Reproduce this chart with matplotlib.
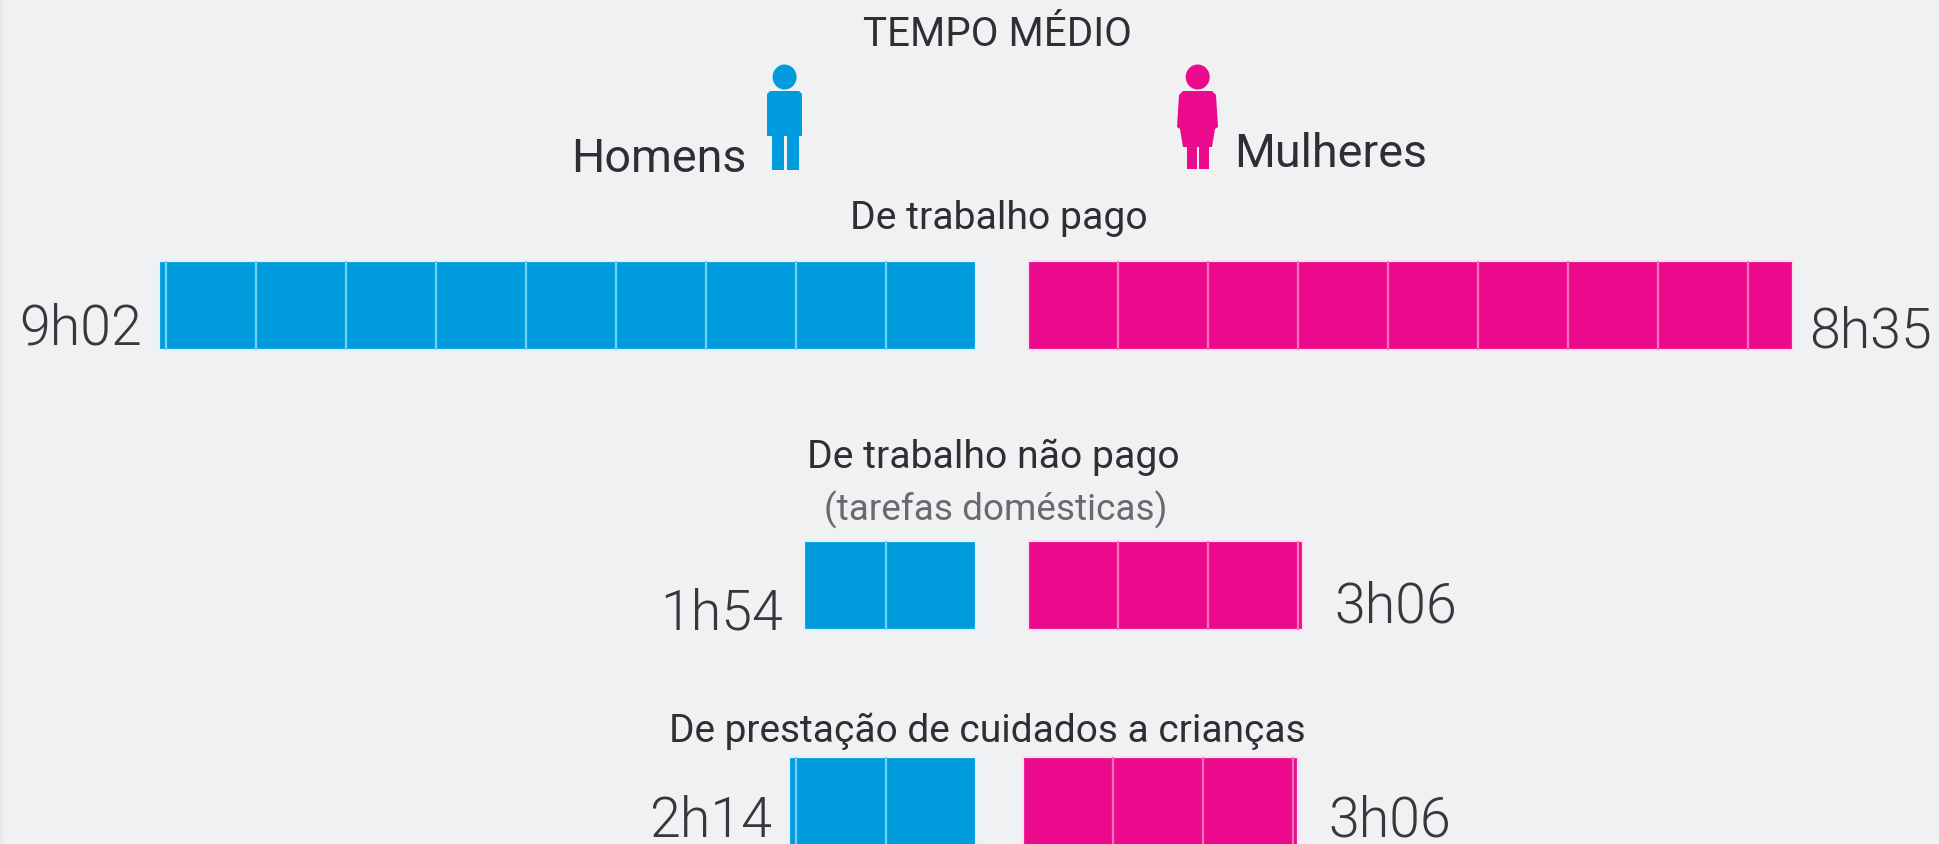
import matplotlib
matplotlib.use("Agg")
import matplotlib.pyplot as plt
from matplotlib.patches import Ellipse, Polygon, Rectangle

# ---- data ----
categories = ["De trabalho pago", "De trabalho não pago", "De prestação de cuidados a crianças"]
men_hours = [9.07, 1.91, 2.07]      # drawn bar lengths, in unit cells (hours)
women_hours = [8.50, 3.05, 3.05]
men_labels = ["9h02", "1h54", "2h14"]
women_labels = ["8h35", "3h06", "3h06"]

# ---- layout / style ----
W, H = 1939, 845
BG = "#f0f1f3"
BLUE, BLUE_SEP, BLUE_HALO = "#009cde", "#6fd3f3", "#dff4fb"
PINK, PINK_SEP, PINK_HALO = "#ec0a8c", "#f872bb", "#fde0f0"
INK = "#2f2f33"
PX_PER_HOUR = 90.0
MEN_BASE = 975.5
WOMEN_BASE = [1028, 1028, 1023]
ROW_TOP = [262, 542, 758]
ROW_H = 89

plt.rcParams["font.family"] = ["Roboto", "DejaVu Sans"]
fig = plt.figure(figsize=(W / 100, H / 100), dpi=100, facecolor=BG)

# bars: x axis in hours measured from the men's baseline
ax = fig.add_axes([0, 0, 1, 1], facecolor="none")
ax.set_xlim(-MEN_BASE / PX_PER_HOUR, (W - MEN_BASE) / PX_PER_HOUR)
ax.set_ylim(H, 0)
ax.axis("off")


def draw_bar(left, length, top, sign, color, sep, halo):
    start = left if sign > 0 else left - length
    ax.barh(top, length, height=ROW_H, left=start, align="edge", color=color,
            edgecolor=halo, linewidth=1.6, zorder=2)
    k = 1
    while k < length:
        x = left + sign * k
        ax.plot([x, x], [top, top + ROW_H], color=sep, lw=1.6, zorder=3,
                solid_capstyle="butt")
        k += 1


for i in range(len(categories)):
    draw_bar(0, men_hours[i], ROW_TOP[i], -1, BLUE, BLUE_SEP, BLUE_HALO)
    w0 = (WOMEN_BASE[i] - MEN_BASE) / PX_PER_HOUR
    draw_bar(w0, women_hours[i], ROW_TOP[i], 1, PINK, PINK_SEP, PINK_HALO)

# overlay in pixel coordinates for text and icons
ov = fig.add_axes([0, 0, 1, 1], facecolor="none")
ov.set_xlim(0, W)
ov.set_ylim(H, 0)
ov.axis("off")
ov.add_patch(Rectangle((0, 0), 3, H, color="#ebe8ea", lw=0))


def txt(x, y, s, size, ha="center", color=INK, weight="normal"):
    ov.text(x, y, s, fontsize=size, ha=ha, va="baseline", color=color, weight=weight)


txt(997, 46, "TEMPO MÉDIO", 29)
txt(659, 172, "Homens", 33.7)
txt(1331, 167, "Mulheres", 33.7)
txt(999, 229, categories[0], 28.2)
txt(993, 468, categories[1], 28.2)
txt(996, 520, "(tarefas domésticas)", 26.6, color="#6a6a6e")
txt(987, 742, categories[2], 28)

L = 40
VAL_INK = "#38383c"
for x, y, s in zip([142, 783, 772], [345, 630, 837], men_labels):
    ov.text(x, y, s, fontsize=L, ha="right", va="baseline", color=VAL_INK, weight=300)
for x, y, s in zip([1809, 1334, 1328], [348, 623, 837], women_labels):
    ov.text(x, y, s, fontsize=L, ha="left", va="baseline", color=VAL_INK, weight=300)

# man icon
ov.add_patch(Ellipse((784.6, 78), 24, 25, color=BLUE, lw=0))
ov.add_patch(Polygon([(770, 92), (799, 92), (802, 95), (802, 137), (767, 137), (767, 95)],
                     color=BLUE, lw=0))
ov.add_patch(Rectangle((772, 137), 12, 34, color=BLUE, lw=0))
ov.add_patch(Rectangle((786.5, 137), 12.5, 34, color=BLUE, lw=0))

# woman icon
ov.add_patch(Ellipse((1197.7, 78), 24, 25, color=PINK, lw=0))
ov.add_patch(Polygon([(1183, 92), (1212, 92), (1216, 96), (1218, 128), (1215, 130), (1212, 148),
                      (1183, 148), (1180, 130), (1177, 128), (1179, 96)], color=PINK, lw=0))
ov.add_patch(Rectangle((1187, 148), 9.5, 22, color=PINK, lw=0))
ov.add_patch(Rectangle((1199, 148), 9.5, 22, color=PINK, lw=0))

fig.savefig("out.png", dpi=100, facecolor=BG)
